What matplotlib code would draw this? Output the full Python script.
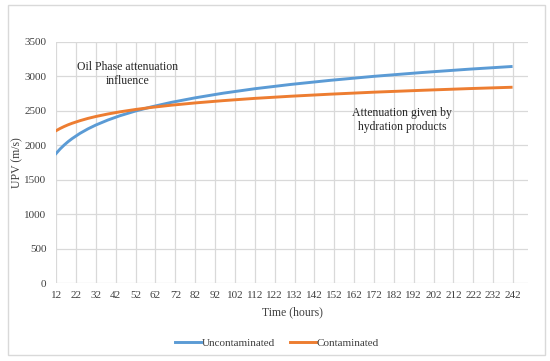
import matplotlib
matplotlib.use("Agg")
import matplotlib.pyplot as plt
from matplotlib.patches import Rectangle

# values (hours, m/s)
hours = [12, 14, 16, 18, 20, 24, 28, 32, 38, 44, 52, 60, 70, 82, 96,
         112, 130, 150, 172, 196, 220, 241]
uncontaminated = [1880, 1945, 2001, 2051, 2095, 2172, 2237, 2293, 2365, 2427,
                  2497, 2557, 2622, 2688, 2755, 2820, 2882, 2942, 3000, 3055,
                  3104, 3142]
contaminated = [2211, 2243, 2271, 2296, 2318, 2356, 2389, 2417, 2453, 2484,
                2519, 2549, 2581, 2614, 2647, 2680, 2711, 2741, 2770, 2797,
                2822, 2841]
xticks = list(range(12, 243, 10))
yticks = list(range(0, 3501, 500))

plt.rcParams['font.family'] = ['Liberation Serif', 'DejaVu Serif']

fig = plt.figure(figsize=(5.5, 3.61), dpi=100)
ax = fig.add_axes([0.102, 0.216, 0.858, 0.668])

# outer chart frame
fig.patches.append(Rectangle((8 / 550, 1 - 355 / 361), 537 / 550, 350 / 361,
                             transform=fig.transFigure, fill=False,
                             edgecolor='#d9d9d9', lw=1))

ax.plot(hours, uncontaminated, color='#5b9bd5', lw=2.1, label='Uncontaminated')
ax.plot(hours, contaminated, color='#ed7d31', lw=2.1, label='Contaminated')

ax.set_xlim(12, 249.5)
ax.set_ylim(0, 3500)
ax.set_xticks(xticks)
ax.set_yticks(yticks)
ax.grid(True, color='#d9d9d9', lw=0.9)
ax.set_axisbelow(True)
for s in ax.spines.values():
    s.set_visible(False)
ax.tick_params(length=0, labelsize=8, colors='#404040')
ax.tick_params(axis='x', pad=6)
ax.tick_params(axis='y', pad=7)

ax.set_xlabel('Time (hours)', fontsize=8.5, color='#404040', labelpad=4)
ax.set_ylabel('UPV (m/s)', fontsize=8.5, color='#404040', labelpad=1)

ax.text(48, 3030, 'Oil Phase attenuation\ninfluence', ha='center', va='center',
        fontsize=8.5, color='#262626', linespacing=1.2)
ax.text(186, 2366, 'Attenuation given by\nhydration products', ha='center',
        va='center', fontsize=8.5, color='#262626', linespacing=1.2)

fig.legend(loc='center', bbox_to_anchor=(277 / 550, 1 - 343 / 361), ncol=2,
           frameon=False, fontsize=8, handlelength=2.35, handletextpad=0.0,
           columnspacing=1.4, labelcolor='#404040')

fig.savefig('out.png', dpi=100)
